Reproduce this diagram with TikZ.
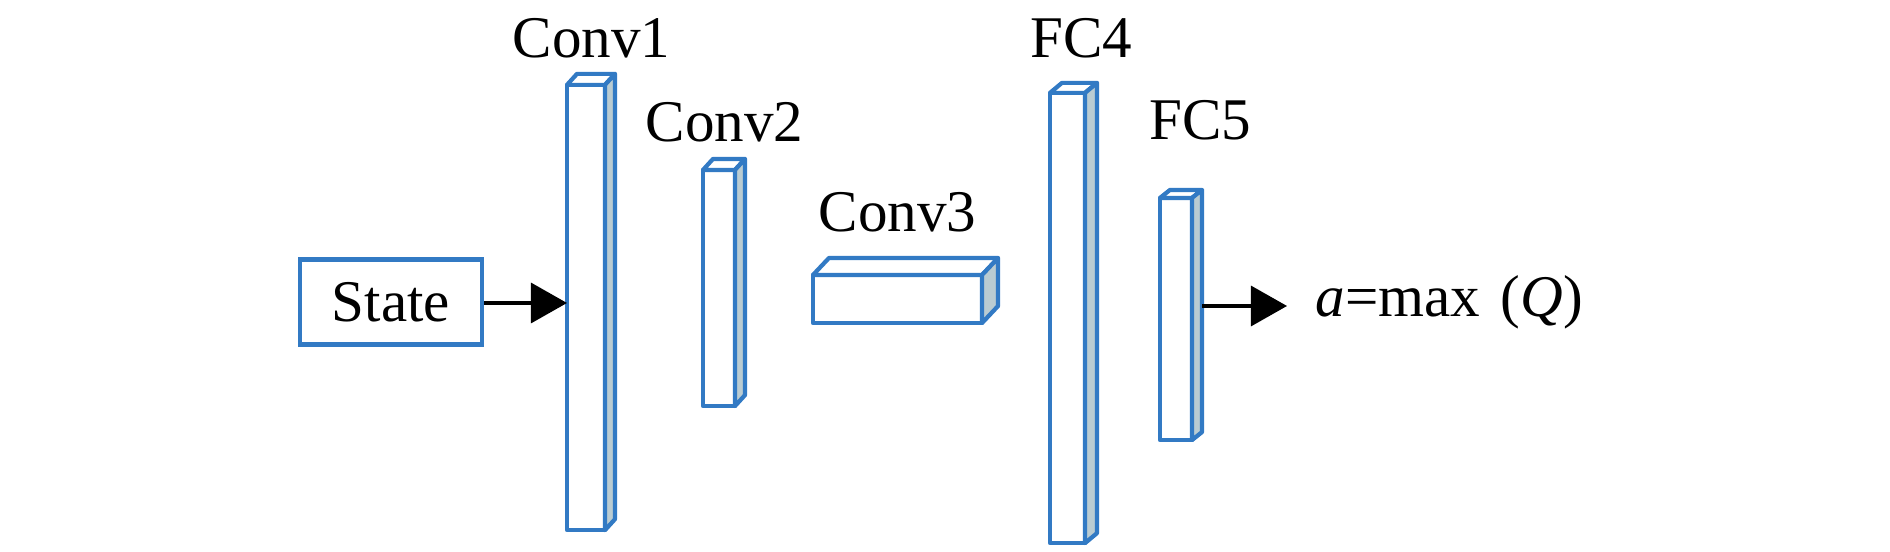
\documentclass[tikz,border=0pt]{standalone}
\usepackage{fontspec}
\setmainfont{Liberation Serif}
\usetikzlibrary{arrows.meta}
\definecolor{boxblue}{RGB}{50,122,196}
\definecolor{sidegray}{RGB}{186,204,210}
\tikzset{
  face/.style={draw=boxblue, line width=1.2pt, fill=white, inner sep=0pt, outer sep=0pt, line join=round},
  topface/.style={draw=boxblue, line width=1.2pt, fill=white, line join=round},
  sideface/.style={draw=boxblue, line width=1.2pt, fill=sidegray, line join=round},
  lbl/.style={inner sep=0pt, anchor=base west, font=\fontsize{16.8}{20}\selectfont},
  statebox/.style={draw=boxblue, line width=1.2pt, inner sep=0pt, minimum width=1.82cm, minimum height=0.85cm, font=\fontsize{16.8}{20}\selectfont},
  flow/.style={line width=0.9pt, -{Triangle[length=0.36cm,width=0.4cm]}}
}
\newcommand{\cuboid}[3]{% name, dx, dy
  \draw[topface] (#1.north west) -- ++(#2,#3) -- ([shift={(#2,#3)}]#1.north east) -- (#1.north east) -- cycle;
  \draw[sideface] (#1.north east) -- ++(#2,#3) -- ([shift={(#2,#3)}]#1.south east) -- (#1.south east) -- cycle;
}
\begin{document}
\begin{tikzpicture}[x=0.01cm,y=-0.01cm]
\useasboundingbox (0,0) rectangle (1890,552);
% layers (front faces)
\node[face, minimum width=0.38cm, minimum height=4.45cm] (c1) at (586,307.5) {};
\cuboid{c1}{10}{-11}
\node[face, minimum width=0.32cm, minimum height=2.36cm] (c2) at (719,288) {};
\cuboid{c2}{10}{-11}
\node[face, minimum width=1.69cm, minimum height=0.48cm] (c3) at (897.5,299) {};
\cuboid{c3}{16}{-17}
\node[face, minimum width=0.35cm, minimum height=4.50cm] (f4) at (1067.5,318) {};
\cuboid{f4}{12}{-10}
\node[face, minimum width=0.32cm, minimum height=2.42cm] (f5) at (1176,319) {};
\cuboid{f5}{10}{-8}
% labels
\node[lbl] (l1) at (512,58) {Conv1};
\node[lbl] (l2) at (645,142) {Conv2};
\node[lbl] (l3) at (818,232) {Conv3};
\node[lbl] (l4) at (1030,58) {FC4};
\node[lbl] (l5) at (1149,140) {FC5};
% state and output
\node[statebox] (state) at (391,302) {State};
\coordinate (out) at (1287,306);
\node[lbl] (res) at (1315,317) {\textit{a}=max\hspace{0.1em} (\textit{Q})};
\draw[flow] (state.east |- 0,303) -- (c1.west |- 0,303);
\draw[flow] ([xshift=0.1cm]f5.east |- out) -- (out);
\end{tikzpicture}
\end{document}
